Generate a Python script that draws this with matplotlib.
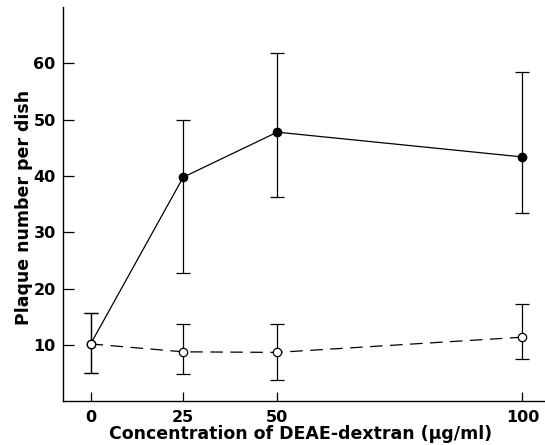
import numpy as np
import matplotlib
matplotlib.use('Agg')
import matplotlib.pyplot as plt

# concentration of DEAE-dextran (ug/ml)
conc = [0, 25, 50, 100]

# with DEAE-dextran treatment (filled circles, solid line)
treated = [10.2, 39.8, 47.8, 43.4]
treated_lo = [5.0, 22.8, 36.2, 33.5]
treated_hi = [15.7, 49.9, 61.8, 58.5]

# control (open circles, dashed line)
control = [10.2, 8.8, 8.7, 11.4]
control_lo = [5.0, 4.8, 3.8, 7.5]
control_hi = [15.7, 13.8, 13.7, 17.3]

yticks = [10, 20, 30, 40, 50, 60]

# the original x axis is drawn unevenly (0-50 tighter than 50-100)
knots = [-50, 0, 25, 50, 100, 200]
pos = [-186.6, 0, 92.6, 186.6, 432, 923]
fwd = lambda x: np.interp(x, knots, pos)
inv = lambda p: np.interp(p, pos, knots)

plt.rcParams['font.family'] = 'DejaVu Sans'
plt.rcParams['font.weight'] = 'bold'

fig = plt.figure(figsize=(5.45, 4.45), dpi=100)
ax = fig.add_axes([0.115, 0.098, 0.885, 0.886])
ax.set_xscale('function', functions=(fwd, inv))

def err(vals, lo, hi):
    v = np.array(vals)
    return [v - np.array(lo), np.array(hi) - v]

ax.errorbar(conc, treated, yerr=err(treated, treated_lo, treated_hi),
            color='black', lw=0.9, elinewidth=0.9, capsize=5, capthick=0.9,
            marker='o', ms=6, mfc='black', mec='black', zorder=2)
ax.errorbar(conc, control, yerr=err(control, control_lo, control_hi),
            color='black', lw=0.9, elinewidth=0.9, capsize=5, capthick=0.9,
            ls=(0, (10, 6)), marker='o', ms=6, mfc='white', mec='black',
            mew=0.9, zorder=3)

ax.set_xlim(-7.5, 104.6)
ax.set_ylim(0, 70)
ax.set_xticks(conc)
ax.set_xticklabels([str(c) for c in conc])
ax.set_yticks(yticks)

for s in ['top', 'right']:
    ax.spines[s].set_visible(False)
for s in ['left', 'bottom']:
    ax.spines[s].set_linewidth(1.0)

ax.tick_params(axis='y', direction='in', length=8, width=0.9, labelsize=11.5, pad=5)
ax.tick_params(axis='x', direction='in', length=6.5, width=0.9, labelsize=11.5, pad=6)

ax.set_xlabel('Concentration of DEAE-dextran (µg/ml)', fontsize=12.5, fontweight='bold')
ax.set_ylabel('Plaque number per dish', fontsize=12.5, fontweight='bold')
ax.xaxis.set_label_coords(0.494, -0.061)
ax.yaxis.set_label_coords(-0.062, 0.493)

fig.savefig('out.png', dpi=100)
